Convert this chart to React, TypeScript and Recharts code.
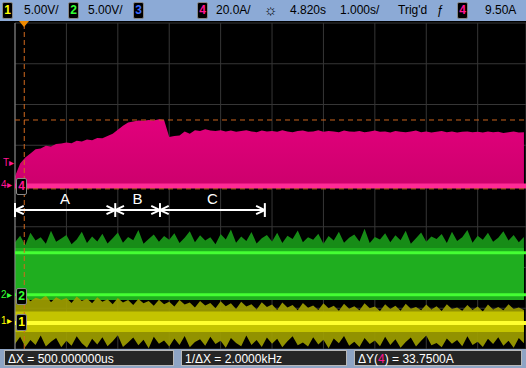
import React from "react";
import { ComposedChart, Area, XAxis, YAxis, CartesianGrid, ReferenceLine, ReferenceDot } from "recharts";

const W = 526;
const H = 368;

// one sample every 0.1 division, 100 samples across the screen
const pinkTop = [
  4.24, 4.55, 4.7, 4.8, 4.9, 4.92, 4.99, 4.97, 5.03, 5.04,
  5.07, 5.05, 5.11, 5.09, 5.14, 5.12, 5.18, 5.17, 5.23, 5.28,
  5.38, 5.48, 5.56, 5.58, 5.61, 5.6, 5.62, 5.61, 5.64, 5.62,
  5.2, 5.23, 5.24, 5.34, 5.28, 5.37, 5.35, 5.39, 5.36, 5.35,
  5.37, 5.34, 5.36, 5.33, 5.35, 5.37, 5.34, 5.32, 5.36, 5.34,
  5.35, 5.33, 5.37, 5.34, 5.32, 5.35, 5.36, 5.33, 5.34, 5.37,
  5.33, 5.35, 5.34, 5.32, 5.36, 5.34, 5.33, 5.35, 5.32, 5.34,
  5.36, 5.33, 5.34, 5.31, 5.35, 5.33, 5.32, 5.34, 5.36, 5.32,
  5.34, 5.31, 5.33, 5.35, 5.32, 5.34, 5.31, 5.33, 5.34, 5.32,
  5.33, 5.31, 5.34, 5.32, 5.33, 5.3, 5.32, 5.34, 5.31, 5.32,
];
const pinkBase = 3.95;

const greenTop = [
  2.62, 2.78, 2.55, 2.85, 2.66, 2.74, 2.58, 2.9, 2.63, 2.71,
  2.8, 2.57, 2.69, 2.88, 2.6, 2.76, 2.64, 2.83, 2.59, 2.72,
  2.86, 2.61, 2.75, 2.67, 2.92, 2.58, 2.7, 2.81, 2.63, 2.77,
  2.68, 2.84, 2.6, 2.73, 2.89, 2.62, 2.79, 2.66, 2.74, 2.57,
  2.82, 2.69, 2.93, 2.61, 2.76, 2.65, 2.87, 2.59, 2.72, 2.8,
  2.64, 2.85, 2.6, 2.78, 2.7, 2.91, 2.62, 2.74, 2.68, 2.83,
  2.58, 2.77, 2.66, 2.88, 2.61, 2.73, 2.81, 2.64, 2.95, 2.6,
  2.75, 2.69, 2.84, 2.62, 2.79, 2.67, 2.9, 2.58, 2.72, 2.86,
  2.63, 2.76, 2.7, 2.82, 2.6, 2.88, 2.65, 2.74, 2.92, 2.61,
  2.78, 2.68, 2.85, 2.63, 2.73, 2.89, 2.66, 2.8, 2.62, 2.75,
];
const greenBody = [1.2, 2.48];

const yellowTop = [
  1.28, 1.2, 1.3, 1.17, 1.26, 1.22, 1.31, 1.15, 1.27, 1.2,
  1.25, 1.13, 1.29, 1.18, 1.24, 1.12, 1.27, 1.16, 1.22, 1.1,
  1.25, 1.14, 1.2, 1.08, 1.23, 1.12, 1.18, 1.06, 1.21, 1.1,
  1.16, 1.04, 1.2, 1.09, 1.14, 1.02, 1.18, 1.07, 1.13, 1.0,
  1.17, 1.05, 1.12, 0.98, 1.16, 1.04, 1.1, 0.97, 1.15, 1.03,
  1.09, 0.96, 1.14, 1.02, 1.08, 0.95, 1.13, 1.01, 1.07, 0.96,
  1.12, 1.0, 1.06, 0.94, 1.11, 0.99, 1.05, 0.95, 1.12, 1.0,
  1.04, 0.93, 1.1, 0.98, 1.06, 0.94, 1.11, 0.99, 1.03, 0.95,
  1.09, 0.97, 1.05, 0.93, 1.1, 0.98, 1.02, 0.94, 1.08, 0.96,
  1.04, 0.92, 1.09, 0.97, 1.03, 0.95, 1.1, 0.98, 1.02, 0.96,
];
const yellowBottom = [
  0.12, 0.3, 0.05, 0.22, 0.1, 0.33, 0.06, 0.18, 0.27, 0.04,
  0.2, 0.08, 0.31, 0.14, 0.03, 0.25, 0.11, 0.29, 0.07, 0.19,
  0.34, 0.05, 0.16, 0.28, 0.09, 0.23, 0.02, 0.3, 0.13, 0.21,
  0.06, 0.26, 0.1, 0.32, 0.04, 0.17, 0.24, 0.08, 0.3, 0.12,
  0.2, 0.03, 0.27, 0.15, 0.07, 0.33, 0.1, 0.22, 0.05, 0.28,
  0.13, 0.25, 0.04, 0.19, 0.31, 0.09, 0.16, 0.06, 0.29, 0.11,
  0.23, 0.02, 0.26, 0.14, 0.32, 0.08, 0.18, 0.05, 0.27, 0.12,
  0.21, 0.07, 0.3, 0.1, 0.24, 0.03, 0.17, 0.28, 0.06, 0.2,
  0.33, 0.09, 0.15, 0.04, 0.26, 0.13, 0.22, 0.07, 0.31, 0.1,
  0.18, 0.05, 0.25, 0.12, 0.29, 0.08, 0.2, 0.03, 0.27, 0.14,
];
const yellowBody = [0.42, 0.92];

// trace baselines (bright lines) and cursors, in divisions
const ch4Level = 4.0;
const ch2Levels = [2.36, 1.33];
const ch1Level = 0.64;
const cursorY = [5.62, 3.93];
const triggerX = 0.18;

const gridX = [0, 1, 2, 3, 4, 5, 6, 7, 8, 9];
const gridY = [0, 1, 2, 3, 4, 5, 6, 7, 8];

const spanStops = [0, 1.95, 2.82, 4.86];
const spanLabels = ["A", "B", "C"];
const spanY = 3.41;

const data = pinkTop.map((p, i) => ({
  t: i / 10,
  pink: [pinkBase, p],
  gNoise: [greenBody[0], greenTop[i]],
  gBody: greenBody,
  yNoise: [yellowBottom[i], yellowTop[i]],
  yBody: yellowBody,
}));

const font = "'Liberation Sans', Arial, sans-serif";

function ChBox({ n, color, x, y }: { n: string; color: string; x: number; y: number }) {
  return (
    <div style={{ position: "absolute", left: x, top: y, width: 9, height: 15, background: "#000", border: "1px solid #888", borderRadius: 2, color, fontSize: 12, lineHeight: "15px", textAlign: "center", fontWeight: "bold" }}>{n}</div>
  );
}

function Txt({ x, y, children, color = "#000", size = 12 }: { x: number; y: number; children: React.ReactNode; color?: string; size?: number }) {
  return <div style={{ position: "absolute", left: x, top: y, color, fontSize: size, whiteSpace: "nowrap" }}>{children}</div>;
}

export default function App() {
  const heads: { x: number; dir: number }[] = [];
  spanStops.forEach((s, i) => {
    if (i > 0) heads.push({ x: s, dir: -1 });
    if (i < spanStops.length - 1) heads.push({ x: s, dir: 1 });
  });
  return (
    <div style={{ position: "absolute", left: 0, top: 0, width: W, height: H, background: "#000", fontFamily: font, overflow: "hidden" }}>
      <ComposedChart width={W} height={H} data={data} margin={{ top: 23, right: 0, bottom: 19, left: 15 }}>
        <defs>
          <linearGradient id="pinkFill" x1="0" y1="0" x2="0" y2="1">
            <stop offset="0%" stopColor="#e2007c" />
            <stop offset="100%" stopColor="#cc006c" />
          </linearGradient>
        </defs>
        <XAxis dataKey="t" type="number" domain={[0, 9.94]} ticks={gridX} hide />
        <YAxis type="number" domain={[0, 8]} ticks={gridY} hide />
        <CartesianGrid stroke="#363636" />
        <Area dataKey="gNoise" type="linear" stroke="none" fill="#178c17" fillOpacity={1} isAnimationActive={false} dot={false} activeDot={false} />
        <Area dataKey="gBody" type="linear" stroke="none" fill="#1fae1f" fillOpacity={1} isAnimationActive={false} dot={false} activeDot={false} />
        <Area dataKey="yNoise" type="linear" stroke="none" fill="#9e9e00" fillOpacity={0.92} isAnimationActive={false} dot={false} activeDot={false} />
        <Area dataKey="yBody" type="linear" stroke="none" fill="#c4c400" fillOpacity={1} isAnimationActive={false} dot={false} activeDot={false} />
        <Area dataKey="pink" type="linear" stroke="none" fill="url(#pinkFill)" fillOpacity={1} isAnimationActive={false} dot={false} activeDot={false} />
        <ReferenceLine x={0} stroke="#8a8a8a" />
        <ReferenceLine y={ch4Level} stroke="#ff2a96" strokeWidth={5} />
        {ch2Levels.map((v) => (
          <ReferenceLine key={v} y={v} stroke="#44ff33" strokeWidth={3} />
        ))}
        <ReferenceLine y={ch1Level} stroke="#ffff30" strokeWidth={4} />
        {cursorY.map((v) => (
          <ReferenceLine key={v} y={v} stroke="#c8641e" strokeDasharray="5 4" />
        ))}
        <ReferenceLine x={triggerX} stroke="#d2691e" strokeDasharray="5 3" />
        <ReferenceLine segment={[{ x: spanStops[0], y: spanY }, { x: spanStops[spanStops.length - 1], y: spanY }]} stroke="#fff" strokeWidth={2} />
        {spanStops.map((s) => (
          <ReferenceLine key={"v" + s} segment={[{ x: s, y: spanY + 0.17 }, { x: s, y: spanY - 0.17 }]} stroke="#fff" strokeWidth={2} />
        ))}
        {heads.map((h, i) => (
          <React.Fragment key={"h" + i}>
            <ReferenceLine segment={[{ x: h.x, y: spanY }, { x: h.x + h.dir * 0.17, y: spanY + 0.1 }]} stroke="#fff" strokeWidth={2} />
            <ReferenceLine segment={[{ x: h.x, y: spanY }, { x: h.x + h.dir * 0.17, y: spanY - 0.1 }]} stroke="#fff" strokeWidth={2} />
          </React.Fragment>
        ))}
        {spanLabels.map((l, i) => (
          <ReferenceDot key={l} x={(spanStops[i] + spanStops[i + 1]) / 2} y={3.7} r={0} fill="none" stroke="none" label={{ value: l, fill: "#fff", fontSize: 15, position: "center", fontFamily: font }} />
        ))}
      </ComposedChart>

      {/* top status bar */}
      <div style={{ position: "absolute", left: 0, top: 0, width: W, height: 21, background: "#8caad6" }} />
      <div style={{ position: "absolute", left: 19, top: 21, width: 0, height: 0, borderLeft: "5px solid transparent", borderRight: "5px solid transparent", borderTop: "6px solid #f08a00" }} />
      <ChBox n="1" color="#ffff00" x={2} y={2} />
      <Txt x={24} y={3}>5.00V/</Txt>
      <ChBox n="2" color="#33ff33" x={68} y={2} />
      <Txt x={88} y={3}>5.00V/</Txt>
      <ChBox n="3" color="#3a6bff" x={133} y={2} />
      <ChBox n="4" color="#ff1493" x={197} y={2} />
      <Txt x={216} y={3}>20.0A/</Txt>
      <Txt x={264} y={1} size={15}>☼</Txt>
      <Txt x={290} y={3}>4.820s</Txt>
      <Txt x={340} y={3}>1.000s/</Txt>
      <Txt x={398} y={3}>Trig'd</Txt>
      <Txt x={437} y={3}>ƒ</Txt>
      <ChBox n="4" color="#ff1493" x={457} y={2} />
      <Txt x={485} y={3}>9.50A</Txt>

      {/* channel markers */}
      <Txt x={3} y={157} color="#ff1493" size={10}>T▸</Txt>
      <Txt x={1} y={179} color="#ff1493" size={10}>4▸</Txt>
      <ChBox n="4" color="#ff1493" x={16} y={178} />
      <Txt x={1} y={289} color="#33ff33" size={10}>2▸</Txt>
      <ChBox n="2" color="#33ff33" x={16} y={288} />
      <Txt x={1} y={315} color="#ffff00" size={10}>1▸</Txt>
      <ChBox n="1" color="#ffff00" x={16} y={314} />

      {/* bottom measurement bar */}
      <div style={{ position: "absolute", left: 0, top: 349, width: W, height: 19, background: "#8ea4c4" }} />
      {[
        { x: 4, w: 170, text: <>ΔX = 500.000000us</> },
        { x: 181, w: 166, text: <>1/ΔX = 2.0000kHz</> },
        { x: 354, w: 168, text: <>ΔY(<span style={{ color: "#ff1493" }}>4</span>) = 33.7500A</> },
      ].map((b, i) => (
        <div key={i} style={{ position: "absolute", left: b.x, top: 350, width: b.w, height: 16, background: "#262626", border: "1px solid #b8b8b8", color: "#fff", fontSize: 12, lineHeight: "16px", paddingLeft: 3, boxSizing: "border-box", whiteSpace: "nowrap" }}>{b.text}</div>
      ))}
    </div>
  );
}
